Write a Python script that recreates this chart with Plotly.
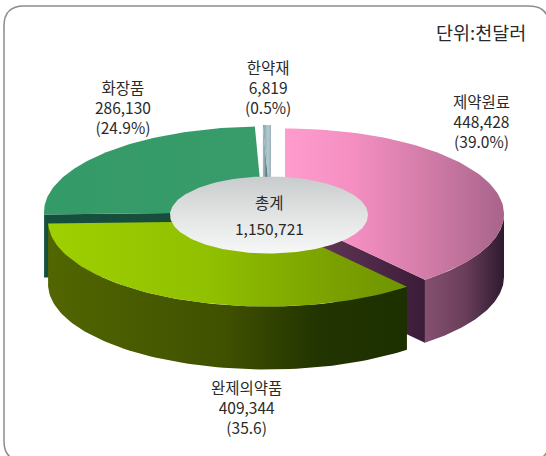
import math
import plotly.graph_objects as go

# ---- data ----
categories = ["제약원료", "완제의약품", "화장품", "한약재"]
values = [448428, 409344, 286130, 6819]
percent_labels = ["(39.0%)", "(35.6)", "(24.9%)", "(0.5%)"]
value_labels = ["448,428", "409,344", "286,130", "6,819"]
total_label = "총계"
total_value = "1,150,721"
unit_label = "단위:천달러"

# ---- geometry / style (pixels) ----
W, H = 546, 456
A, B, DEPTH = 219.0, 85.5, 63.0
centers = [(285, 214), (267, 221), (263, 212), (271, 210.5)]
top_grad = [
    (285, 504, [[0, "#ff9ccd"], [0.3, "#f58fc2"], [0.65, "#d27ca8"], [1, "#a8648a"]]),
    (47, 408, [[0, "#9fd000"], [0.45, "#90c000"], [0.8, "#7aa000"], [1, "#6f9400"]]),
    (43, 256, [[0, "#349a68"], [1, "#379c6a"]]),
    (264, 272, [[0, "#8fa9b0"], [0.5, "#b4ccd0"], [1, "#8fa9b0"]]),
]
side_grad = [
    (426, 504, [[0, "#84506f"], [0.5, "#6a3e5a"], [1, "#2e1a2e"]]),
    (47, 408, [[0, "#526600"], [0.5, "#3f5000"], [0.75, "#223400"], [1, "#1c3000"]]),
    (43, 256, [[0, "#14503c"], [1, "#14503c"]]),
    None,
]
face_grad = [
    (285, 426, [[0, "#6e3d60"], [1, "#3a1c38"]]),
    None,
    (43, 263, [[0, "#14503c"], [1, "#1c4a3a"]]),
    (264, 271, [[0, "#9ab4ba"], [0.6, "#34505a"], [1, "#34505a"]]),
]
outline = "rgba(0,0,0,0)"

total = sum(values)
spans, start = [], 0.0
for v in values:
    end = start + v / total * 360
    spans.append((start, end))
    start = end


def pt(c, deg, dy=0.0):
    r = math.radians(deg)
    return c[0] + A * math.sin(r), c[1] - B * math.cos(r) + dy


def arc(c, a0, a1, dy=0.0, n=80):
    pts = [pt(c, a0 + (a1 - a0) * i / n, dy) for i in range(n + 1)]
    return [p[0] for p in pts], [p[1] for p in pts]


def poly(xs, ys, grad, orient="horizontal"):
    g0, g1, stops = grad
    return go.Scatter(
        x=xs, y=ys, mode="lines", line=dict(width=0, color=outline),
        fill="toself", hoverinfo="skip", showlegend=False,
        fillgradient=dict(type=orient, start=g0, stop=g1, colorscale=stops),
    )


def top(i):
    a0, a1 = spans[i]
    c = centers[i]
    x, y = arc(c, a0, a1)
    return poly([c[0]] + x + [c[0]], [c[1]] + y + [c[1]], top_grad[i])


def side(i, lo, hi):
    a0, a1 = max(spans[i][0], lo), min(spans[i][1], hi)
    x, y = arc(centers[i], a0, a1)
    xb, yb = arc(centers[i], a0, a1, DEPTH)
    return poly(x + xb[::-1] + x[:1], y + yb[::-1] + y[:1], side_grad[i])


def face(i, deg):
    c = centers[i]
    p = pt(c, deg)
    xs = [c[0], p[0], p[0], c[0], c[0]]
    ys = [c[1], p[1], p[1] + DEPTH, c[1] + DEPTH, c[1]]
    return poly(xs, ys, face_grad[i])


fig = go.Figure()
# back to front
fig.add_trace(face(3, spans[3][0]))
fig.add_trace(top(3))
fig.add_trace(face(2, spans[2][0]))
fig.add_trace(top(2))
fig.add_trace(side(0, 90, 180))
fig.add_trace(face(0, spans[0][1]))
fig.add_trace(top(0))
fig.add_trace(side(1, 90, 270))
fig.add_trace(top(1))

# centre ellipse
ex, ey = [], []
for i in range(181):
    t = math.radians(i * 2)
    ex.append(269 + 99 * math.cos(t))
    ey.append(215 + 38.5 * math.sin(t))
fig.add_trace(poly(ex, ey, (177, 253, [[0, "#c9cccc"], [0.5, "#e2e4e4"], [1, "#f6f7f7"]]), "vertical"))

FONT = "Noto Sans CJK KR"
TEXT = "#2a2a2a"


def label(x, y, s, size=15.5):
    fig.add_annotation(x=x, y=y, text=s, showarrow=False, xref="x", yref="y",
                       xanchor="center", yanchor="middle",
                       font=dict(family=FONT, size=size, color=TEXT))


for i, xc, yc in [(0, 481, 121), (1, 246, 407), (2, 123, 107), (3, 268, 87)]:
    label(xc, yc, f"{categories[i]}<br>{value_labels[i]}<br>{percent_labels[i]}")
label(269, 202, total_label)
label(269, 228, total_value)
label(481, 32, unit_label, 18.5)

R = 20
l, t_, r, b = 4, 6, 549, 461
path = (f"M {l+R} {t_} L {r-R} {t_} Q {r} {t_} {r} {t_+R} L {r} {b-R} Q {r} {b} {r-R} {b} "
        f"L {l+R} {b} Q {l} {b} {l} {b-R} L {l} {t_+R} Q {l} {t_} {l+R} {t_} Z")
fig.add_shape(type="path", path=path, xref="x", yref="y", layer="below",
              line=dict(color="#8c8c8c", width=1.5), fillcolor="white")

fig.update_layout(
    width=W, height=H, margin=dict(l=0, r=0, t=0, b=0),
    paper_bgcolor="white", plot_bgcolor="white", showlegend=False,
    xaxis=dict(range=[0, W], visible=False, fixedrange=True),
    yaxis=dict(range=[H, 0], visible=False, fixedrange=True),
)
fig.write_html("out.html", config={"displayModeBar": False},
               post_script="document.body.style.margin='0';document.body.style.overflow='hidden';")
